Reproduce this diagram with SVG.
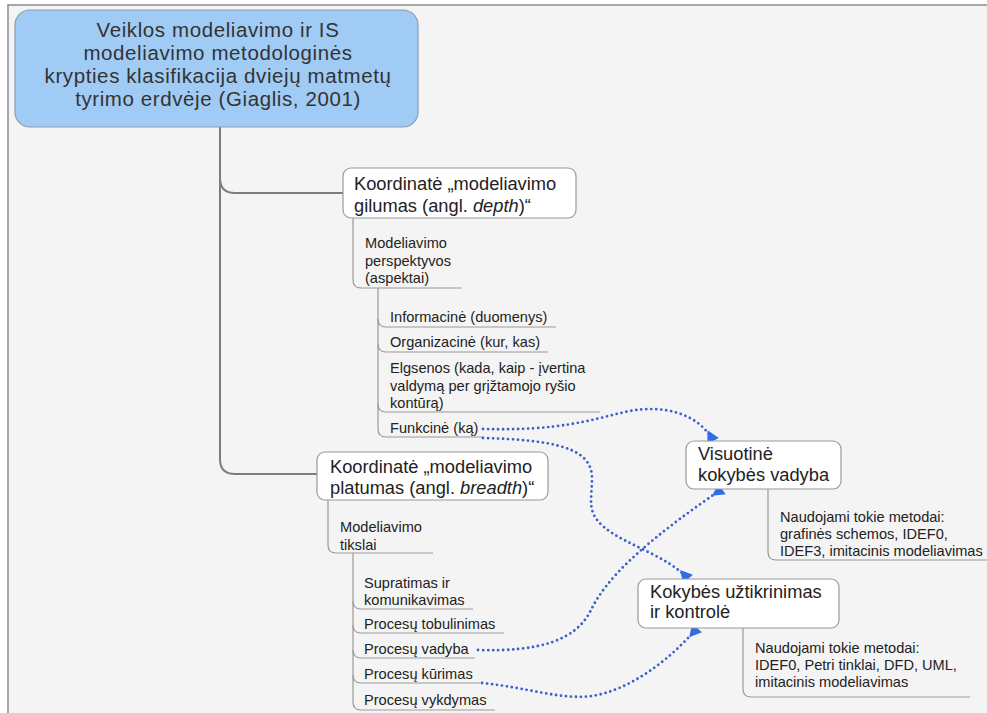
<svg xmlns="http://www.w3.org/2000/svg" width="987" height="713" viewBox="0 0 987 713">
<style>
  text { font-family: "Liberation Sans", Arial, sans-serif; fill: #222; }
  .title { font-size: 20.5px; letter-spacing: 0.6px; fill: #333; text-anchor: middle; }
  .node { font-size: 18.3px; }
  .small { font-size: 14.6px; }
  .box { fill: #ffffff; stroke: #9a9a9a; stroke-width: 1.2; }
  .trunk { fill: none; stroke: #7d7d7d; stroke-width: 2; }
  .branch { fill: none; stroke: #999; stroke-width: 1.2; }
  .rel { fill: none; stroke: #3a5fcd; stroke-width: 2.8; stroke-dasharray: 0 5; stroke-linecap: round; marker-end: url(#tri); }
</style>
<defs>
  <marker id="tri" markerUnits="userSpaceOnUse" markerWidth="16" markerHeight="16" viewBox="0 -8 13 16" refX="12" refY="0" orient="auto">
    <path d="M12,-6.5 L12,6.5 L0,0 z" fill="#2f6de6"/>
  </marker>
</defs>
<rect x="0" y="0" width="987" height="713" fill="#ffffff"/>
<rect x="8" y="5" width="979" height="708" fill="#f4f4f4"/>
<path d="M8,713 V5 H987" fill="none" stroke="#8c8c8c" stroke-width="1.5"/>

<g id="connectors">
  <path class="trunk" d="M220,127 V178 Q220,193 235,193 H343"/>
  <path class="trunk" d="M220,127 V459 Q220,474 235,474 H318"/>
  <path class="branch" d="M353,218 V280 Q353,288 361,288 H462"/>
  <path class="branch" d="M378,288 V429 Q378,437 386,437 H482"/>
  <path class="branch" d="M378,319 Q378,327 386,327 H556"/>
  <path class="branch" d="M378,344 Q378,352 386,352 H548"/>
  <path class="branch" d="M378,404 Q378,412 386,412 H600"/>
  <path class="branch" d="M328,500 V545 Q328,553 336,553 H433"/>
  <path class="branch" d="M353,553 V702 Q353,710 361,710 H495"/>
  <path class="branch" d="M353,601 Q353,609 361,609 H473"/>
  <path class="branch" d="M353,625 Q353,633 361,633 H504"/>
  <path class="branch" d="M353,650 Q353,658 361,658 H475"/>
  <path class="branch" d="M353,675 Q353,683 361,683 H480"/>
  <path class="branch" d="M768,489 V552 Q768,560 776,560 H987"/>
  <path class="branch" d="M743,628 V689 Q743,697 751,697 H970"/>
  <path class="rel" d="M483,429 C560,431 590,420 625,412 C665,403 700,415 713,441"/>
  <path class="rel" d="M483,438 C555,440 592,448 592,478 C592,500 586,512 604,527 C625,545 668,556 688,579"/>
  <path class="rel" d="M478,650 C540,652 575,640 590,612 C605,580 640,545 722,489"/>
  <path class="rel" d="M482,683 C530,688 560,700 592,696 C630,690 670,660 697,628"/>
</g>

<g id="title">
  <rect x="15" y="10" width="403" height="117" rx="15" fill="#a0cbf4" stroke="#8a9db0" stroke-width="1.2"/>
  <text class="title" x="218" y="37">Veiklos modeliavimo ir IS</text>
  <text class="title" x="218" y="60">modeliavimo metodologinės</text>
  <text class="title" x="218" y="83">krypties klasifikacija dviejų matmetų</text>
  <text class="title" x="218" y="106">tyrimo erdvėje (Giaglis, 2001)</text>
</g>

<g id="depth">
  <rect class="box" x="343" y="168" width="233" height="50" rx="8"/>
  <text class="node" x="354" y="190">Koordinatė „modeliavimo</text>
  <text class="node" x="354" y="212">gilumas (angl. <tspan font-style="italic">depth</tspan>)“</text>
</g>
<g id="perspektyvos">
  <text class="small" x="365" y="248">Modeliavimo</text>
  <text class="small" x="365" y="266">perspektyvos</text>
  <text class="small" x="365" y="283">(aspektai)</text>
</g>
<g id="informacine"><text class="small" x="390" y="322">Informacinė (duomenys)</text></g>
<g id="organizacine"><text class="small" x="390" y="347">Organizacinė (kur, kas)</text></g>
<g id="elgsenos">
  <text class="small" x="390" y="373">Elgsenos (kada, kaip - įvertina</text>
  <text class="small" x="390" y="391">valdymą per grįžtamojo ryšio</text>
  <text class="small" x="390" y="408">kontūrą)</text>
</g>
<g id="funkcine"><text class="small" x="390" y="433">Funkcinė (ką)</text></g>

<g id="breadth">
  <rect class="box" x="317" y="452" width="231" height="48" rx="8"/>
  <text class="node" x="330" y="473">Koordinatė „modeliavimo</text>
  <text class="node" x="330" y="494">platumas (angl. <tspan font-style="italic">breadth</tspan>)“</text>
</g>
<g id="tikslai">
  <text class="small" x="340" y="532">Modeliavimo</text>
  <text class="small" x="340" y="550">tikslai</text>
</g>
<g id="supratimas">
  <text class="small" x="364" y="588">Supratimas ir</text>
  <text class="small" x="364" y="605">komunikavimas</text>
</g>
<g id="tobulinimas"><text class="small" x="364" y="629">Procesų tobulinimas</text></g>
<g id="vadyba"><text class="small" x="364" y="654">Procesų vadyba</text></g>
<g id="kurimas"><text class="small" x="364" y="679">Procesų kūrimas</text></g>
<g id="vykdymas"><text class="small" x="364" y="705">Procesų vykdymas</text></g>

<g id="visuotine">
  <rect class="box" x="686" y="441" width="155" height="48" rx="8"/>
  <text class="node" x="698" y="460">Visuotinė</text>
  <text class="node" x="698" y="481">kokybės vadyba</text>
</g>
<g id="visuotine-metodai">
  <text class="small" x="780" y="522">Naudojami tokie metodai:</text>
  <text class="small" x="780" y="539">grafinės schemos, IDEF0,</text>
  <text class="small" x="780" y="556">IDEF3, imitacinis modeliavimas</text>
</g>

<g id="uztikrinimas">
  <rect class="box" x="638" y="579" width="201" height="49" rx="8"/>
  <text class="node" x="650" y="598">Kokybės užtikrinimas</text>
  <text class="node" x="650" y="618">ir kontrolė</text>
</g>
<g id="uztikrinimas-metodai">
  <text class="small" x="755" y="653">Naudojami tokie metodai:</text>
  <text class="small" x="755" y="670">IDEF0, Petri tinklai, DFD, UML,</text>
  <text class="small" x="755" y="687">imitacinis modeliavimas</text>
</g>
</svg>
